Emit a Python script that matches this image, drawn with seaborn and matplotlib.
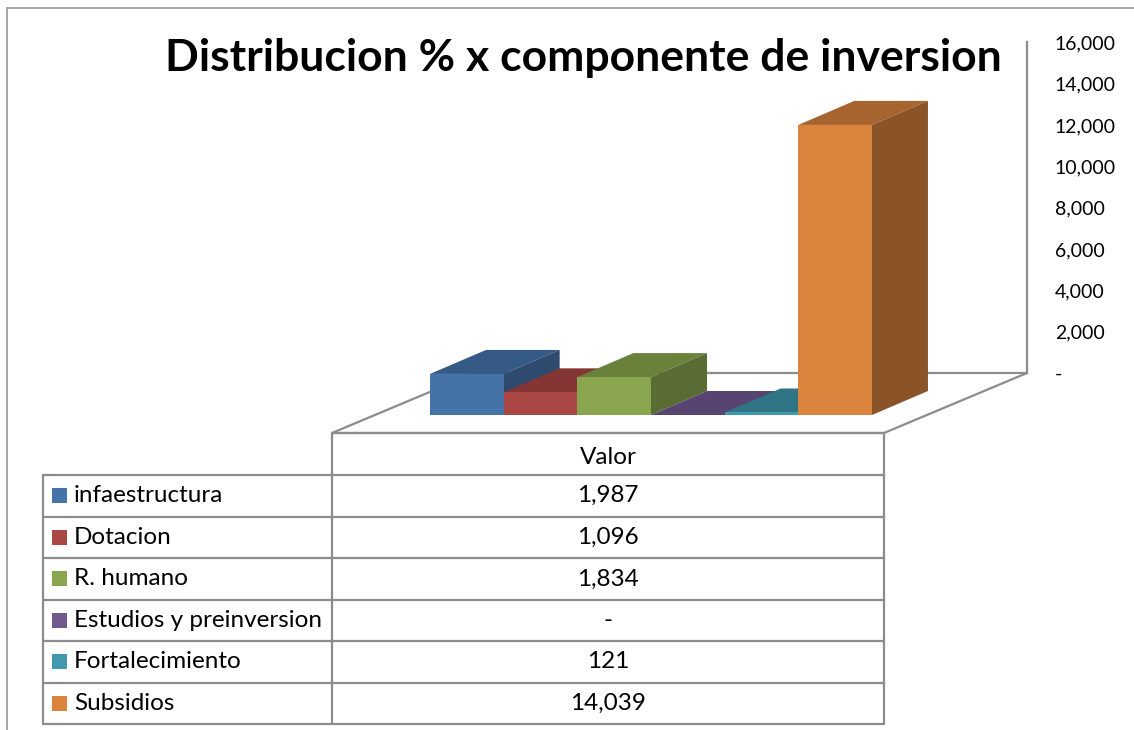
import numpy as np
import pandas as pd
import seaborn as sns
import matplotlib.pyplot as plt
from matplotlib.patches import Polygon
from matplotlib.lines import Line2D

# ---------------- data ----------------
categories = ["infaestructura", "Dotacion", "R. humano",
              "Estudios y preinversion", "Fortalecimiento", "Subsidios"]
values = [1987, 1096, 1834, 0, 121, 14039]
value_labels = ["1,987", "1,096", "1,834", "-", "121", "14,039"]
y_ticks = [0, 2000, 4000, 6000, 8000, 10000, 12000, 14000, 16000]
y_ticklabels = ["-", "2,000", "4,000", "6,000", "8,000", "10,000",
                "12,000", "14,000", "16,000"]
table_header = "Valor"
title = "Distribucion % x componente de inversion"

front_colors = ["#4572A7", "#AA4643", "#89A54E", "#71588F", "#4198AF", "#DB843D"]
top_colors = ["#355A86", "#843534", "#6A813C", "#584470", "#2F7585", "#A8642F"]
side_colors = ["#2E4B6F", "#6F2C2A", "#596C33", "#493A5E", "#286374", "#8B5328"]

# ---------------- style ----------------
sns.set_theme(style="white")
plt.rcParams["font.family"] = ["Lato", "DejaVu Sans"]

W, H = 1134, 730
fig = plt.figure(figsize=(W / 100, H / 100), dpi=100)
fig.patch.set_facecolor("white")

GRID = "#8C8C8C"
FS_TICK = 14
FS_TABLE = 17.5

def fx(px):
    return px / W

def fy(py):
    return 1 - py / H

# depth geometry (pixels, display y up)
BAR_DX, BAR_DY = 56, 24          # bar depth
FLOOR_FRONT = (-41, -18)         # floor front plane relative to bar front plane
FLOOR_BACK = (102, 42)           # back wall plane relative to bar front plane

ax_h = 330.6 / H
ax_w = 552 / W
ax_left = 373 / W
ax_bottom = (H - 415) / H

# back wall axes (carries value axis)
ax_back = fig.add_axes([ax_left + FLOOR_BACK[0] / W, ax_bottom + FLOOR_BACK[1] / H, ax_w, ax_h])
ax_back.set_zorder(0)
ax_back.patch.set_visible(False)
ax_back.set_ylim(0, 16000)
ax_back.set_xlim(0, 1)
ax_back.set_xticks([])
ax_back.yaxis.tick_right()
ax_back.set_yticks(y_ticks)
ax_back.set_yticklabels(y_ticklabels)
ax_back.tick_params(axis="y", length=0, pad=20, labelsize=FS_TICK, labelcolor="#000000")
for s in ["left", "top"]:
    ax_back.spines[s].set_visible(False)
for s in ["right", "bottom"]:
    ax_back.spines[s].set_color(GRID)
    ax_back.spines[s].set_linewidth(1.6)

# front plane axes with bars
ax = fig.add_axes([ax_left, ax_bottom, ax_w, ax_h])
ax.set_zorder(1)
ax.patch.set_visible(False)
df = pd.DataFrame({"componente": categories, "valor": values})
sns.barplot(data=df, x="componente", y="valor", hue="componente",
            order=categories, hue_order=categories, palette=front_colors,
            width=1, saturation=1, legend=False, linewidth=0, ax=ax)
ax.set_xlim(-1.274, 6.22)
ax.set_ylim(0, 16000)
ax.set_axis_off()

inv = fig.transFigure.inverted()

def to_fig(pts):
    return inv.transform(np.asarray(pts, dtype=float))

# floor outline
(x0d, y0d) = ax.transData.transform((-1.274, 0))
(x1d, _) = ax.transData.transform((6.22, 0))
fl = [(x0d + FLOOR_FRONT[0], y0d + FLOOR_FRONT[1]),
      (x1d + FLOOR_FRONT[0], y0d + FLOOR_FRONT[1]),
      (x1d + FLOOR_BACK[0], y0d + FLOOR_BACK[1]),
      (x0d + FLOOR_BACK[0], y0d + FLOOR_BACK[1])]
flf = to_fig(fl)
for a, b in [(0, 1), (1, 2), (0, 3)]:
    ln = Line2D([flf[a][0], flf[b][0]], [flf[a][1], flf[b][1]],
                transform=fig.transFigure, color=GRID, lw=1.6, zorder=1)
    ln.set_clip_on(False)
    ax.add_artist(ln)

# 3D faces
bars = sorted(ax.patches, key=lambda p: p.get_x())
for i, p in enumerate(bars):
    bx, bw, bh = p.get_x(), p.get_width(), p.get_height()
    (X0, Y0) = ax.transData.transform((bx, 0))
    (X1, Yh) = ax.transData.transform((bx + bw, bh))
    top = [(X0, Yh), (X1, Yh), (X1 + BAR_DX, Yh + BAR_DY), (X0 + BAR_DX, Yh + BAR_DY)]
    side = [(X1, Y0), (X1, Yh), (X1 + BAR_DX, Yh + BAR_DY), (X1 + BAR_DX, Y0 + BAR_DY)]
    base = 10 + 3 * i
    for pts, col, z in [(top, top_colors[i], base), (side, side_colors[i], base + 1)]:
        poly = Polygon(to_fig(pts), closed=True, transform=fig.transFigure,
                       facecolor=col, edgecolor="none", zorder=z)
        poly.set_clip_on(False)
        ax.add_artist(poly)
    p.set_zorder(base + 2)
    p.set_clip_on(False)

# ---------------- title ----------------
fig.text(fx(583.5), fy(58), title, ha="center", va="center",
         fontsize=32, fontweight="bold", color="#000000")

# ---------------- frame ----------------
def fline(xs, ys, color=GRID, lw=1.6):
    fig.add_artist(Line2D([fx(x) for x in xs], [fy(y) for y in ys],
                          transform=fig.transFigure, color=color, lw=lw))

fline([7, 7], [8, 730], color="#A6A6A6", lw=1.4)
fline([7, 1134], [8, 8], color="#A6A6A6", lw=1.4)

# ---------------- data table ----------------
row_edges = [475, 516.6, 558.2, 599.5, 641, 682.6, 724]
col_left, col_mid, col_right = 43, 332, 884
fline([col_mid, col_right], [433, 433])
for y in row_edges:
    fline([col_left, col_right], [y, y])
fline([col_left, col_left], [475, 724])
fline([col_mid, col_mid], [433, 724])
fline([col_right, col_right], [433, 724])

fig.text(fx((col_mid + col_right) / 2), fy(458), table_header,
         ha="center", va="center", fontsize=FS_TABLE, color="#000000")
for i, (cat, lab) in enumerate(zip(categories, value_labels)):
    yc = (row_edges[i] + row_edges[i + 1]) / 2
    fig.patches.append(plt.Rectangle((fx(52), fy(yc + 7.5)), 15 / W, 15 / H,
                                     transform=fig.transFigure, figure=fig,
                                     facecolor=front_colors[i], edgecolor="none"))
    fig.text(fx(74), fy(yc), cat, ha="left", va="center", fontsize=FS_TABLE, color="#000000")
    fig.text(fx((col_mid + col_right) / 2), fy(yc), lab,
             ha="center", va="center", fontsize=FS_TABLE, color="#000000")

fig.savefig("out.png", dpi=100, facecolor="white")
